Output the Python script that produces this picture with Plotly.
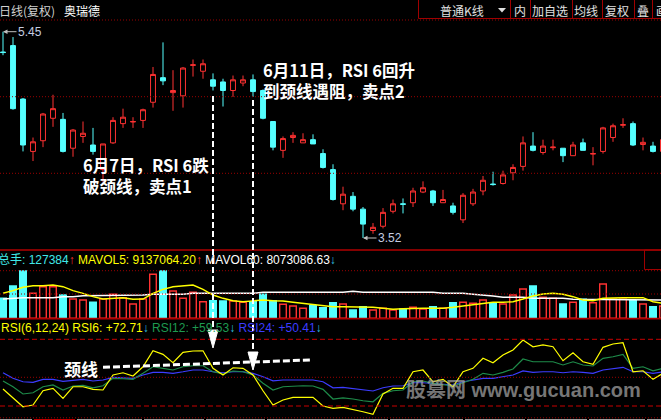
import plotly.graph_objects as go

W, H = 661, 420

# ---------------- data ----------------
days = list(range(67))

open_ = [5.26, 5.32, 4.82, 4.33, 4.43, 4.64, 4.63, 4.36, 4.47, 4.39,
         4.16, 4.41, 4.59, 4.605, 4.62, 4.79, 5.02, 4.88, 4.85, 5.135,
         5.08, 5.00, 4.98, 4.90, 4.97, 5.00, 4.90, 4.61, 4.34, 4.46,
         4.41, 4.44, 4.31, 4.16, 3.84, 3.91, 3.79, 3.59, 3.63, 3.77,
         3.84, 3.85, 3.95, 3.96, 3.85, 3.82, 3.69, 3.84, 3.96, 4.025,
         4.03, 4.13, 4.19, 4.38, 4.32, 4.365, 4.36, 4.29, 4.41, 4.305,
         4.33, 4.46, 4.575, 4.59, 4.395, 4.38, 4.33]
high = [5.45, 5.40, 4.83, 4.46, 4.69, 4.86, 4.69, 4.54, 4.61, 4.55,
        4.40, 4.65, 4.73, 4.65, 4.73, 5.12, 5.35, 5.09, 5.12, 5.19,
        5.19, 5.06, 5.01, 5.04, 5.04, 5.05, 4.91, 4.61, 4.47, 4.51,
        4.50, 4.49, 4.35, 4.21, 4.00, 3.95, 3.81, 3.66, 3.80, 3.88,
        3.89, 3.99, 4.05, 3.97, 3.97, 3.85, 3.94, 3.98, 4.10, 4.14,
        4.15, 4.21, 4.47, 4.51, 4.44, 4.44, 4.36, 4.42, 4.45, 4.37,
        4.56, 4.59, 4.64, 4.61, 4.46, 4.42, 4.46]
low = [5.23, 4.72, 4.33, 4.24, 4.37, 4.56, 4.32, 4.28, 4.41, 4.30,
       4.04, 4.40, 4.55, 4.55, 4.55, 4.74, 4.95, 4.71, 4.74, 5.03,
       5.01, 4.90, 4.75, 4.84, 4.94, 4.84, 4.63, 4.34, 4.27, 4.41,
       4.41, 4.40, 4.17, 3.87, 3.78, 3.77, 3.52, 3.56, 3.61, 3.75,
       3.75, 3.81, 3.94, 3.82, 3.85, 3.74, 3.66, 3.82, 3.92, 4.01,
       4.02, 4.06, 4.15, 4.33, 4.30, 4.34, 4.23, 4.29, 4.34, 4.20,
       4.31, 4.42, 4.55, 4.38, 4.34, 4.32, 4.32]
close = [5.255, 4.73, 4.39, 4.42, 4.68, 4.73, 4.33, 4.53, 4.50, 4.33,
         4.40, 4.62, 4.65, 4.61, 4.72, 5.05, 4.99, 4.90, 5.11, 5.14,
         5.15, 4.94, 4.90, 5.00, 5.00, 4.89, 4.64, 4.37, 4.45, 4.48,
         4.44, 4.40, 4.18, 3.88, 3.93, 3.79, 3.65, 3.62, 3.76, 3.84,
         3.835, 3.96, 3.99, 3.85, 3.88, 3.76, 3.92, 3.95, 4.06, 4.02,
         4.11, 4.18, 4.41, 4.34, 4.38, 4.37, 4.29, 4.39, 4.34, 4.31,
         4.55, 4.57, 4.58, 4.39, 4.415, 4.33, 4.44]

volume = [200, 323, 473, 250, 316, 316, 233, 193, 183, 160,
          193, 240, 206, 143, 193, 440, 473, 273, 200, 260,
          166, 176, 173, 173, 160, 166, 240, 176, 140, 123,
          100, 126, 106, 156, 143, 83, 116, 83, 100, 83,
          93, 110, 93, 116, 100, 156, 160, 150, 183, 156,
          143, 233, 293, 323, 210, 200, 143, 160, 190, 156,
          343, 190, 190, 176, 143, 116, 123]
vol_ma5 = [250, 276, 310, 326, 326, 333, 316, 276, 250, 216,
           193, 200, 206, 190, 193, 250, 290, 316, 326, 333,
           290, 233, 200, 176, 166, 173, 183, 176, 173, 160,
           150, 140, 126, 116, 116, 116, 116, 110, 100, 90,
           96, 100, 100, 100, 100, 110, 123, 133, 150, 160,
           160, 166, 193, 223, 243, 250, 240, 216, 183, 176,
           200, 206, 206, 206, 206, 166, 150]
vol_ma60 = [193, 200, 206, 206, 206, 206, 216, 216, 226, 226,
            233, 233, 233, 233, 233, 240, 240, 240, 240, 250,
            250, 250, 250, 250, 250, 250, 260, 260, 260, 260,
            260, 260, 260, 260, 260, 270, 260, 260, 260, 260,
            260, 260, 260, 260, 250, 250, 250, 240, 233, 223,
            210, 210, 210, 200, 200, 200, 200, 190, 190, 190,
            190, 190, 190, 183, 183, 183, 183]

rsi6 = [35.3, 26.9, 19.3, 20.9, 33.7, 35.9, 26.9, 37.3, 37.3, 35.0,
        34.4, 47.9, 49.9, 47.0, 55.3, 69.7, 66.5, 58.9, 68.3, 69.5,
        69.7, 53.9, 47.9, 54.4, 53.9, 47.9, 33.7, 20.9, 25.4, 27.8,
        27.8, 27.8, 20.0, 17.9, 18.8, 17.0, 14.8, 12.5, 30.8, 35.9,
        35.9, 50.8, 52.4, 41.8, 44.0, 37.3, 50.8, 53.9, 62.9, 58.9,
        65.9, 70.4, 79.4, 73.3, 74.9, 73.3, 60.7, 67.9, 59.8, 57.5,
        72.8, 75.8, 76.9, 50.8, 51.7, 44.0, 49.4]
rsi12 = [42.5, 37.3, 30.8, 31.9, 37.3, 38.9, 34.4, 38.0, 38.6, 36.4,
         38.2, 44.9, 44.5, 44.0, 49.4, 55.3, 53.9, 52.4, 55.3, 56.2,
         56.2, 50.8, 48.8, 51.5, 50.8, 47.9, 40.4, 34.4, 37.3, 38.0,
         38.2, 38.0, 35.0, 26.3, 27.4, 26.3, 24.7, 23.8, 31.4, 33.7,
         34.4, 41.8, 42.5, 40.4, 39.5, 38.0, 40.9, 44.0, 49.4, 47.9,
         50.3, 53.3, 62.3, 59.8, 59.8, 59.8, 56.9, 59.8, 56.9, 56.0,
         62.9, 64.3, 66.5, 53.9, 55.3, 51.7, 53.9]
rsi24 = [49.9, 44.9, 41.8, 41.3, 44.0, 44.0, 42.2, 43.4, 44.0, 42.5,
         43.4, 45.8, 45.4, 44.9, 47.9, 50.3, 50.3, 49.4, 50.8, 52.4,
         52.4, 50.8, 49.9, 50.8, 50.8, 49.4, 46.3, 42.7, 43.4, 43.4,
         43.4, 43.4, 41.8, 36.4, 36.8, 35.9, 35.0, 33.5, 36.4, 38.0,
         38.2, 40.9, 40.9, 40.4, 39.8, 38.9, 41.8, 43.4, 44.9, 44.9,
         46.3, 47.9, 51.5, 50.3, 50.8, 50.8, 49.9, 50.8, 50.3, 49.4,
         52.4, 53.9, 54.8, 50.8, 50.8, 49.4, 50.8]

high_day, high_val = 0, 5.45
low_day, low_val = 36, 3.52
sell1_day, sell2_day = 21, 25

vol_total_txt = "127384"
mavol5_txt = "9137064.20"
mavol60_txt = "8073086.63"
rsi6_txt, rsi12_txt, rsi24_txt = "+72.71", "+59.53", "+50.41"

# ---------------- styling ----------------
RED = "#ff3232"
CYAN = "#54ffff"
GRID = "#9a0000"
CJK = "Noto Sans CJK SC"
LAT = "Liberation Sans, Arial, Noto Sans CJK SC"


def X(px):
    return px / W


def Y(py):
    return 1 - py / H


fig = go.Figure()

fig.add_trace(go.Candlestick(
    x=days, open=open_, high=high, low=low, close=close,
    increasing=dict(line=dict(color=RED, width=1), fillcolor="#000000"),
    decreasing=dict(line=dict(color=CYAN, width=1), fillcolor=CYAN),
    whiskerwidth=0, hoverinfo="skip", xaxis="x", yaxis="y"))

up = [c > o for o, c in zip(open_, close)]
fig.add_trace(go.Bar(
    x=days, y=volume, width=0.66,
    marker=dict(color=["#000000" if u else CYAN for u in up],
                line=dict(color=[RED if u else CYAN for u in up], width=1.4)),
    hoverinfo="skip", xaxis="x", yaxis="y2"))
fig.add_trace(go.Scatter(x=days, y=vol_ma60, mode="lines",
                         line=dict(color="#ffffff", width=1.4),
                         hoverinfo="skip", xaxis="x", yaxis="y2"))
fig.add_trace(go.Scatter(x=days, y=vol_ma5, mode="lines",
                         line=dict(color="#ffff00", width=1.4),
                         hoverinfo="skip", xaxis="x", yaxis="y2"))

fig.add_trace(go.Scatter(x=days, y=rsi24, mode="lines",
                         line=dict(color="#3c3cff", width=1.2),
                         hoverinfo="skip", xaxis="x", yaxis="y3"))
fig.add_trace(go.Scatter(x=days, y=rsi12, mode="lines",
                         line=dict(color="#1e8c4a", width=1.2),
                         hoverinfo="skip", xaxis="x", yaxis="y3"))
fig.add_trace(go.Scatter(x=days, y=rsi6, mode="lines",
                         line=dict(color="#ffff00", width=1.2),
                         hoverinfo="skip", xaxis="x", yaxis="y3"))

shapes = []


def hline(py, color, width=1, dash="solid", x0=0, x1=W):
    shapes.append(dict(type="line", xref="paper", yref="paper",
                       x0=X(x0), x1=X(x1), y0=Y(py), y1=Y(py),
                       line=dict(color=color, width=width, dash=dash)))


# grid / separators
for py in (20, 96.7, 173.3, 270.7, 294, 377.3, 417.8):
    hline(py, GRID, 1, "1px,2px")
hline(250, "#b00000", 1.5)
hline(318.6, "#b00000", 1.8)
for v in (80, 20):
    shapes.append(dict(type="line", xref="paper", yref="y3", x0=0, x1=1,
                       y0=v, y1=v, line=dict(color="#c80000", width=1, dash="5px,3px")))

# tab bar at top right
shapes.append(dict(type="rect", xref="paper", yref="paper",
                   x0=X(418.5), x1=X(663), y0=Y(18.5), y1=Y(-2),
                   line=dict(color="#a00000", width=1)))
for px in (510.5, 530.5, 572.5, 602.5, 634.5, 652.5):
    shapes.append(dict(type="line", xref="paper", yref="paper",
                       x0=X(px), x1=X(px), y0=Y(18.5), y1=Y(-2),
                       line=dict(color="#a00000", width=1)))
shapes.append(dict(type="path", xref="paper", yref="paper",
                   path=f"M {X(498)} {Y(8)} L {X(506)} {Y(8)} L {X(502)} {Y(12.5)} Z",
                   fillcolor="#e0e0e0", line=dict(width=0)))
# small box right of volume title
shapes.append(dict(type="rect", xref="paper", yref="paper",
                   x0=X(644.5), x1=X(663), y0=Y(269.5), y1=Y(250),
                   line=dict(color="#a00000", width=1)))

# bottom tab strip
segs = [(0, 32, "#a0a0a0"), (34, 75, "#c00000"), (77, 142, "#a0a0a0"),
        (144, 204, "#a0a0a0"), (206, 265, "#a0a0a0"), (267, 388, "#a0a0a0"),
        (390, 463, "#a0a0a0"), (465, 525, "#a0a0a0"), (527, 587, "#a0a0a0"),
        (589, 645, "#a0a0a0"), (647, 661, "#a0a0a0")]
for a, b, c in segs:
    hline(419.5, c, 1, "solid", a, b)

# white dashed guide lines with arrowheads
for d, ytop, ytip in ((sell1_day, 96, 348), (sell2_day, 100, 370)):
    shapes.append(dict(type="line", xref="x", yref="paper", x0=d, x1=d,
                       y0=Y(ytop), y1=Y(ytip - 16),
                       line=dict(color="#ffffff", width=2, dash="6px,3px")))
    shapes.append(dict(type="path", xref="x", yref="paper",
                       path=f"M {d - 0.5} {Y(ytip - 18)} L {d + 0.5} {Y(ytip - 18)} L {d} {Y(ytip)} Z",
                       fillcolor="#ffffff", line=dict(color="#ffffff", width=1)))

# neckline
shapes.append(dict(type="line", xref="paper", yref="paper",
                   x0=X(103), y0=Y(367.3), x1=X(310), y1=Y(360),
                   line=dict(color="#ffffff", width=3, dash="7px,3px")))

ann = []


def text(px, py, s, size=12, color="#ffffff", family=CJK, anchor="left"):
    ann.append(dict(xref="paper", yref="paper", x=X(px), y=Y(py), text=s,
                    showarrow=False, xanchor=anchor, yanchor="middle",
                    align="left",
                    font=dict(size=size, color=color, family=family)))


# top title bar
text(-3, 10.5, "日线(复权)", 12, "#d0d0d0")
text(62, 10.5, "奥瑞德", 12, "#ffffff")
text(462.5, 10.5, "普通K线", 12, "#e0e0e0", anchor="center")
text(520, 10.5, "内", 12, "#e0e0e0", anchor="center")
text(549.5, 10.5, "加自选", 12, "#e0e0e0", anchor="center")
text(585.5, 10.5, "均线", 12, "#e0e0e0", anchor="center")
text(617, 10.5, "复权", 12, "#e0e0e0", anchor="center")
text(643, 10.5, "叠", 12, "#e0e0e0", anchor="center")
text(654, 10.5, "画", 12, "#e0e0e0")

# commentary
text(81, 175, "<b>6月7日，RSI 6跌<br>破颈线，卖点1</b>", 16.5)
text(261, 80.5, "<b>6月11日，RSI 6回升<br>到颈线遇阻，卖点2</b>", 16.5)
text(62, 368, "<b>颈线</b>", 17)

# panel titles
vol_title = (f'<span style="color:#40e8e8">总手: {vol_total_txt}</span>'
             f'<span style="color:#ff3030">↑</span> '
             f'<span style="color:#ffff00">MAVOL5: {mavol5_txt}</span>'
             f'<span style="color:#ff3030">↑</span> '
             f'<span style="color:#ffffff">MAVOL60: {mavol60_txt}</span>'
             f'<span style="color:#30c0e0">↓</span>')
text(-4, 259.5, vol_title, 12, "#ffffff", LAT)
rsi_title = (f'<span style="color:#ffff00">RSI(6,12,24) RSI6: {rsi6_txt}</span>'
             f'<span style="color:#30c0e0">↓</span> '
             f'<span style="color:#1e9a50">RSI12: {rsi12_txt}</span>'
             f'<span style="color:#30c0e0">↓</span> '
             f'<span style="color:#3c3cff">RSI24: {rsi24_txt}</span>'
             f'<span style="color:#30c0e0">↓</span>')
text(-1, 328, rsi_title, 12, "#ffff00", LAT)

# watermark
text(404, 389.5, "<b>股篡网 www.gucuan.com</b>", 20, "rgba(165,165,165,0.72)", LAT)

# high / low price markers
for d, v in ((high_day, high_val), (low_day, low_val)):
    ann.append(dict(xref="x", yref="y", x=d, y=v, text=f"{v:.2f}",
                    showarrow=True, ax=27, ay=0, arrowhead=2, arrowsize=0.9,
                    arrowwidth=1, arrowcolor="#c0c0c0", standoff=0,
                    font=dict(size=12, color="#c4cce0", family=LAT)))

fig.update_layout(
    width=W, height=H, margin=dict(l=0, r=0, t=0, b=0),
    paper_bgcolor="#000000", plot_bgcolor="#000000",
    showlegend=False, hovermode=False,
    xaxis=dict(range=[-0.3, 65.8], domain=[0, 1], visible=False,
               rangeslider=dict(visible=False), fixedrange=True, anchor="y"),
    yaxis=dict(domain=[Y(250), Y(20)], range=[3.4078, 5.5594], visible=False, anchor="x"),
    yaxis2=dict(domain=[Y(318.3), Y(265)], range=[0, 533], visible=False, anchor="x"),
    yaxis3=dict(domain=[0, Y(330)], range=[7.41, 88.37], visible=False, anchor="x"),
    shapes=shapes, annotations=ann,
)

fig.write_html(
    "out.html",
    config={"displayModeBar": False},
    post_script="document.body.style.margin='0';document.body.style.overflow='hidden';",
)
